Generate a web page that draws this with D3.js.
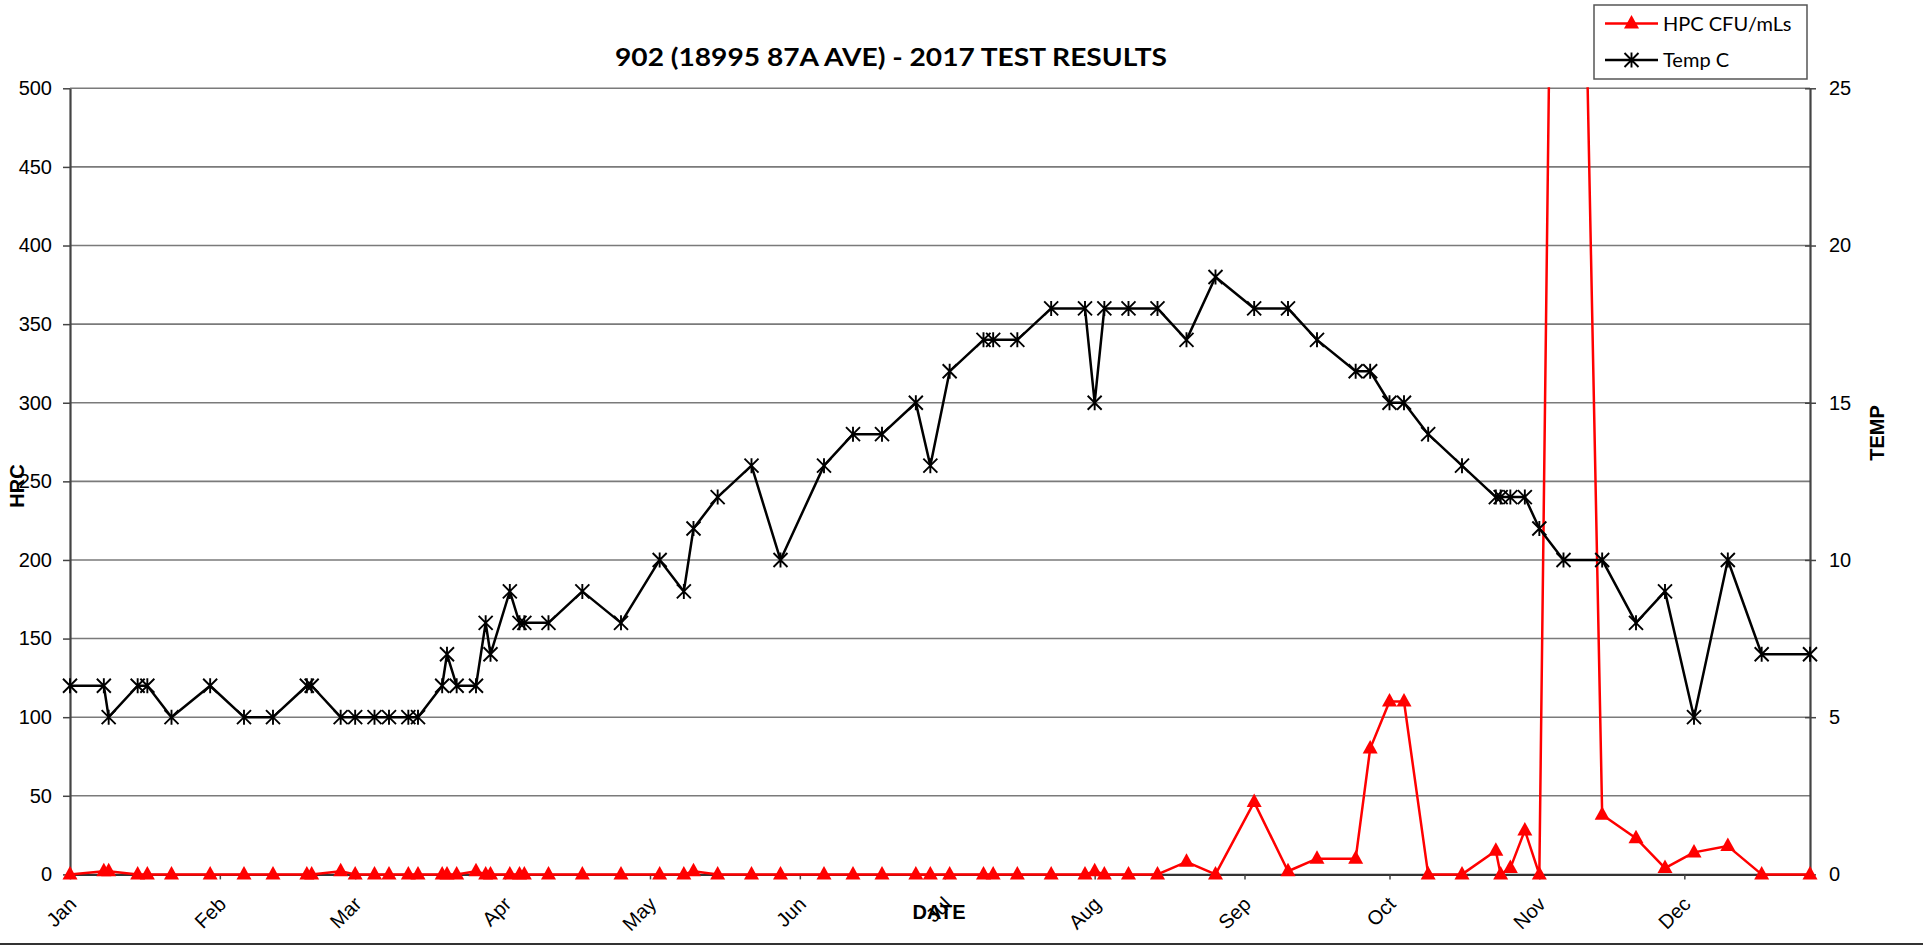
<!DOCTYPE html>
<html>
<head>
<meta charset="utf-8">
<script src="https://cdn.jsdelivr.net/npm/d3@7/dist/d3.min.js"></script>
<style>
  body { margin: 0; background: #fff; overflow: hidden; }
  svg { display: block; }
  .tick text { font-family: "Liberation Sans", Arial, sans-serif; font-size: 20px; fill: #000; }
</style>
</head>
<body>
<svg id="chart" width="1923" height="948"></svg>
<script>
// sample dates (2017) and the two series
const sampleDates = [
  "2017-01-01","2017-01-08","2017-01-09","2017-01-15","2017-01-17","2017-01-22","2017-01-30",
  "2017-02-06","2017-02-12","2017-02-19","2017-02-20","2017-02-26","2017-03-01","2017-03-05",
  "2017-03-08","2017-03-12","2017-03-14","2017-03-19","2017-03-20","2017-03-22","2017-03-26",
  "2017-03-28","2017-03-29","2017-04-02","2017-04-04","2017-04-05","2017-04-10","2017-04-17",
  "2017-04-25","2017-05-03","2017-05-08","2017-05-10","2017-05-15","2017-05-22","2017-05-28",
  "2017-06-06","2017-06-12","2017-06-18","2017-06-25","2017-06-28","2017-07-02","2017-07-09",
  "2017-07-11","2017-07-16","2017-07-23","2017-07-30","2017-08-01","2017-08-03","2017-08-08",
  "2017-08-14","2017-08-20","2017-08-26","2017-09-03","2017-09-10","2017-09-16","2017-09-24",
  "2017-09-27","2017-10-01","2017-10-04","2017-10-09","2017-10-16","2017-10-23","2017-10-24",
  "2017-10-26","2017-10-29","2017-11-01","2017-11-06","2017-11-14","2017-11-21","2017-11-27",
  "2017-12-03","2017-12-10","2017-12-17","2017-12-27"
];

const hpcValues = [
  0,2,2,0,0,0,0,
  0,0,0,0,2,0,0,
  0,0,0,0,0,0,2,
  0,0,0,0,0,0,0,
  0,0,0,2,0,0,0,
  0,0,0,0,0,0,0,
  0,0,0,0,2,0,0,
  0,8,0,46,2,10,10,
  80,110,110,0,0,15,0,
  4,28,0,1270,38,23,4,
  14,18,0,0
];

const tempValues = [
  6,6,5,6,6,5,6,
  5,5,6,6,5,5,5,
  5,5,5,6,7,6,6,
  8,7,9,8,8,8,9,
  8,10,9,11,12,13,10,
  13,14,14,15,13,16,17,
  17,17,18,18,15,18,18,
  18,17,19,18,18,17,16,
  16,15,15,14,13,12,12,
  12,12,11,10,10,8,9,
  5,10,7,7
];

const hpcTicks = [0, 50, 100, 150, 200, 250, 300, 350, 400, 450, 500];
const tempTicks = [0, 5, 10, 15, 20, 25];
const monthStarts = ["2017-01-01","2017-02-01","2017-03-01","2017-04-01","2017-05-01","2017-06-01",
  "2017-07-01","2017-08-01","2017-09-01","2017-10-01","2017-11-01","2017-12-01"];
const monthLabels = ["Jan","Feb","Mar","Apr","May","Jun","Jul","Aug","Sep","Oct","Nov","Dec"];

const parse = d3.timeParse("%Y-%m-%d");
const dates = sampleDates.map(parse);
const months = monthStarts.map(parse);

const plot = { left: 70, right: 1810, top: 88.3, bottom: 874.4 };
const svg = d3.select("#chart");

const x = d3.scaleTime().domain(d3.extent(dates)).range([plot.left, plot.right]);
const yH = d3.scaleLinear().domain([0, 500]).range([plot.bottom, plot.top]);
const yT = d3.scaleLinear().domain([0, 25]).range([plot.bottom, plot.top]);

// clip for the plot area (the big HPC spike runs off the top)
svg.append("clipPath").attr("id", "plot-clip")
  .append("rect")
  .attr("x", plot.left - 8).attr("y", plot.top - 1)
  .attr("width", plot.right - plot.left + 16).attr("height", plot.bottom - plot.top + 14);

// gridlines
svg.append("g").selectAll("line")
  .data(hpcTicks.filter(d => d > 0))
  .join("line")
  .attr("x1", plot.left).attr("x2", plot.right)
  .attr("y1", d => yH(d)).attr("y2", d => yH(d))
  .attr("stroke", "#7a7a7a").attr("stroke-width", 1.6);

// left axis
const gL = svg.append("g").attr("transform", `translate(${plot.left},0)`)
  .call(d3.axisLeft(yH).tickValues(hpcTicks).tickSize(7).tickSizeOuter(0).tickPadding(11));
gL.select(".domain").attr("stroke", "#444").attr("stroke-width", 2.2);
gL.selectAll(".tick line").attr("stroke", "#444").attr("stroke-width", 1.5);

// right axis
const gR = svg.append("g").attr("transform", `translate(${plot.right},0)`)
  .call(d3.axisRight(yT).tickValues(tempTicks).tickSize(6).tickSizeOuter(0).tickPadding(13));
gR.select(".domain").attr("stroke", "#444").attr("stroke-width", 2.2);
gR.selectAll(".tick line").attr("stroke", "#444").attr("stroke-width", 1.5).attr("x1", -5);

// bottom axis
const gB = svg.append("g").attr("transform", `translate(0,${plot.bottom})`)
  .call(d3.axisBottom(x).tickValues(months).tickFormat((d, i) => monthLabels[i])
    .tickSize(5).tickSizeOuter(0));
gB.select(".domain").attr("stroke", "#333").attr("stroke-width", 2.2);
gB.selectAll(".tick line").attr("stroke", "#444").attr("stroke-width", 1.5);
gB.selectAll(".tick text")
  .attr("x", 0).attr("y", 0).attr("dy", 0)
  .attr("text-anchor", "end")
  .attr("transform", "translate(7,31) rotate(-45)");

// series
const plotArea = svg.append("g").attr("clip-path", "url(#plot-clip)");

const hpcData = dates.map((d, i) => ({ date: d, v: hpcValues[i] }));
const tempData = dates.map((d, i) => ({ date: d, v: tempValues[i] }));

const triangle = "M0,-8.5 L7.5,5 L-7.5,5 Z";
const star = "M-7,-7L7,7M-7,7L7,-7M0,-7.5L0,7.5";

plotArea.append("path")
  .datum(hpcData)
  .attr("fill", "none").attr("stroke", "#ff0000").attr("stroke-width", 2.5)
  .attr("stroke-linejoin", "round")
  .attr("d", d3.line().x(d => x(d.date)).y(d => yH(d.v)));

plotArea.append("g").selectAll("path")
  .data(hpcData)
  .join("path")
  .attr("transform", d => `translate(${x(d.date)},${yH(d.v)})`)
  .attr("d", triangle)
  .attr("fill", "#ff0000");

plotArea.append("path")
  .datum(tempData)
  .attr("fill", "none").attr("stroke", "#000").attr("stroke-width", 2.5)
  .attr("stroke-linejoin", "round")
  .attr("d", d3.line().x(d => x(d.date)).y(d => yT(d.v)));

plotArea.append("g").selectAll("path")
  .data(tempData)
  .join("path")
  .attr("transform", d => `translate(${x(d.date)},${yT(d.v)})`)
  .attr("d", star)
  .attr("fill", "none").attr("stroke", "#000").attr("stroke-width", 1.9);

// titles
svg.append("text")
  .attr("x", 891).attr("y", 66)
  .attr("text-anchor", "middle")
  .attr("font-family", "Lato, 'Open Sans', sans-serif")
  .attr("font-weight", "bold").attr("font-size", 24)
  .attr("textLength", 552).attr("lengthAdjust", "spacingAndGlyphs")
  .text("902 (18995 87A AVE) - 2017 TEST RESULTS");

const axisTitle = (tx, ty, rot, label) => svg.append("text")
  .attr("transform", `translate(${tx},${ty}) rotate(${rot})`)
  .attr("text-anchor", "middle")
  .attr("dominant-baseline", "central")
  .attr("font-family", "'Liberation Sans', Arial, sans-serif")
  .attr("font-weight", "bold").attr("font-size", 20)
  .text(label);

axisTitle(17, 486, -90, "HRC");
axisTitle(1877, 433, -90, "TEMP");
axisTitle(939, 912, 0, "DATE");

// legend
const lg = svg.append("g");
lg.append("rect")
  .attr("x", 1594).attr("y", 5).attr("width", 213).attr("height", 74)
  .attr("fill", "#fff").attr("stroke", "#555").attr("stroke-width", 1.5);

const legendItems = [
  { label: "HPC CFU/mLs", color: "#ff0000", shape: triangle, fill: true, y: 23.5 },
  { label: "Temp C", color: "#000", shape: star, fill: false, y: 60 }
];
legendItems.forEach(it => {
  lg.append("line")
    .attr("x1", 1605).attr("x2", 1658).attr("y1", it.y).attr("y2", it.y)
    .attr("stroke", it.color).attr("stroke-width", 2.5);
  lg.append("path")
    .attr("transform", `translate(1631.5,${it.y})`)
    .attr("d", it.shape)
    .attr("fill", it.fill ? it.color : "none")
    .attr("stroke", it.fill ? "none" : it.color)
    .attr("stroke-width", 1.9);
  lg.append("text")
    .attr("x", 1663).attr("y", it.y + 7)
    .attr("font-family", "Lato, 'Open Sans', sans-serif")
    .attr("font-size", 20)
    .text(it.label);
});

// outer chart border (only the bottom edge is inside the window)
svg.append("line")
  .attr("x1", 0).attr("x2", 1923).attr("y1", 944).attr("y2", 944)
  .attr("stroke", "#333").attr("stroke-width", 2);
</script>
</body>
</html>
